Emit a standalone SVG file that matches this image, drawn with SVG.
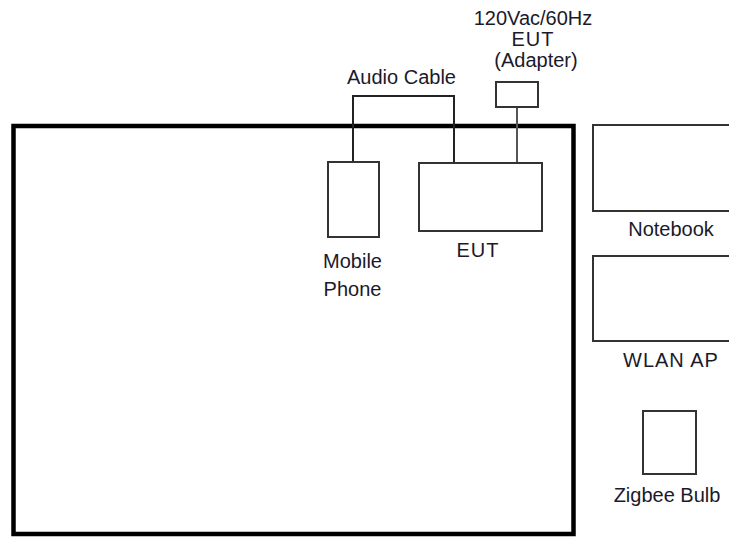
<svg xmlns="http://www.w3.org/2000/svg" width="729" height="537" viewBox="0 0 729 537">
<style>
.box{fill:#fff;stroke:#333;stroke-width:2}
.lbl{font-family:"Liberation Sans",Arial,sans-serif;font-size:20px;fill:#1a1a2a;text-anchor:middle}
.wire{fill:none;stroke:#222;stroke-width:2}
.pw{fill:none;stroke:#555;stroke-width:2}
</style>
<rect width="729" height="537" fill="#fff"/>
<g id="room">
<rect x="13.5" y="126" width="560" height="408" fill="none" stroke="#000" stroke-width="4.5"/>
</g>
<g id="connectors">
<polyline class="wire" points="353,162 353,96 454,96 454,163"/>
<line class="pw" x1="517" y1="107" x2="517" y2="163"/>
</g>
<g id="adapter">
<rect class="box" x="496" y="82" width="42" height="25"/>
<text class="lbl" x="533" y="25">120Vac/60Hz</text>
<text class="lbl" x="533" y="46" letter-spacing="1">EUT</text>
<text class="lbl" x="536" y="67">(Adapter)</text>
</g>
<g id="audio-cable-label">
<text class="lbl" x="401.5" y="84">Audio Cable</text>
</g>
<g id="mobile-phone">
<rect class="box" x="328" y="162" width="51" height="75"/>
<text class="lbl" x="352.5" y="268">Mobile</text>
<text class="lbl" x="352.5" y="296">Phone</text>
</g>
<g id="eut">
<rect class="box" x="419" y="163" width="123" height="68"/>
<text class="lbl" x="478" y="257" letter-spacing="1">EUT</text>
</g>
<g id="notebook">
<rect class="box" x="593" y="125" width="150" height="86"/>
<text class="lbl" x="671" y="236">Notebook</text>
</g>
<g id="wlan-ap">
<rect class="box" x="593" y="256" width="150" height="85"/>
<text class="lbl" x="671" y="367" letter-spacing="1">WLAN AP</text>
</g>
<g id="zigbee-bulb">
<rect class="box" x="643" y="411" width="53" height="63"/>
<text class="lbl" x="667" y="502">Zigbee Bulb</text>
</g>
</svg>
